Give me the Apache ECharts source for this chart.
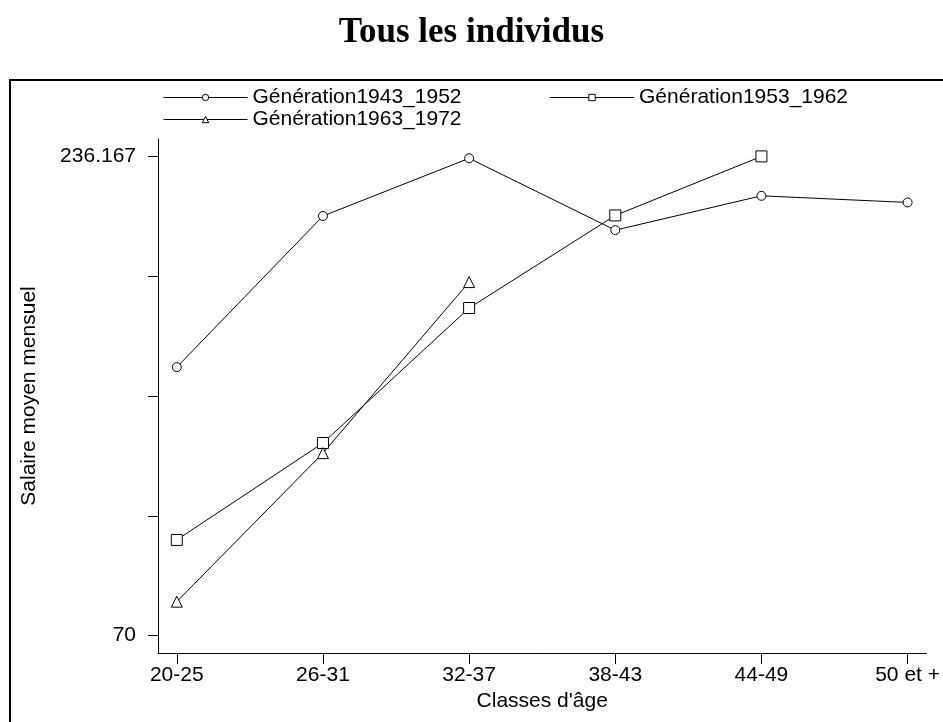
<!DOCTYPE html>
<html>
<head>
<meta charset="utf-8">
<script src="https://cdn.jsdelivr.net/npm/echarts@6/dist/echarts.min.js"></script>
<style>
  html, body { margin: 0; padding: 0; background: #fff; }
  #chart { width: 943px; height: 722px; }
</style>
</head>
<body>
<div id="chart"></div>
<script>
// classes d'âge (axe x)
const categories = ['20-25', '26-31', '32-37', '38-43', '44-49', '50 et +'];

// salaire moyen mensuel par génération
const gen1943 = [163.1, 215.5, 235.5, 210.6, 222.5, 220.2];
const gen1953 = [103.2, 136.8, 183.6, 215.7, 236.167];
const gen1963 = [81.8, 133.3, 192.6];

// graduations de l'axe y
const yTicks = [70, 111.542, 153.084, 194.625, 236.167];
const yLabels = [70, 236.167];

const toPairs = arr => arr.map((v, i) => [i, v]);

const chart = echarts.init(document.getElementById('chart'));

const font = 'Arial, "Liberation Sans", sans-serif';
const black = '#000';

const serie = (name, data, symbol, size) => ({
  name: name,
  type: 'line',
  data: toPairs(data),
  symbol: symbol,
  symbolSize: size,
  showSymbol: true,
  lineStyle: { color: black, width: 1 },
  itemStyle: { color: '#fff', borderColor: black, borderWidth: 1 },
  emphasis: { disabled: true },
  animation: false
});

const legendBase = {
  orient: 'horizontal',
  itemWidth: 84,
  itemHeight: 8,
  textStyle: { fontFamily: font, fontSize: 21, color: black },
  lineStyle: { width: 1, color: black },
  itemStyle: { color: '#fff', borderColor: black, borderWidth: 1 },
  selectedMode: false
};

const option = {
  backgroundColor: '#fff',
  animation: false,
  title: {
    text: 'Tous les individus',
    left: 'center',
    top: 10,
    textStyle: { fontFamily: '"Liberation Serif", "Times New Roman", serif', fontWeight: 'bold', fontSize: 35, color: black }
  },
  graphic: [{
    type: 'rect',
    shape: { x: 10, y: 80, width: 1000, height: 1000 },
    style: { fill: null, stroke: black, lineWidth: 2 },
    silent: true
  }],
  legend: [
    Object.assign({}, legendBase, { left: 158, top: 82, itemGap: 88, data: ['Génération1943_1952', 'Génération1953_1962'] }),
    Object.assign({}, legendBase, { left: 158, top: 104, data: ['Génération1963_1972'] })
  ],
  grid: { left: 158, right: 8, top: 139, bottom: 69 },
  xAxis: {
    type: 'value',
    min: -0.1286,
    max: 5.1286,
    name: "Classes d'âge",
    nameLocation: 'middle',
    nameGap: 33,
    nameTextStyle: { fontFamily: font, fontSize: 21, color: black },
    axisLine: { onZero: false, lineStyle: { color: black, width: 1 } },
    axisTick: { show: true, length: 11, lineStyle: { color: black }, customValues: [0, 1, 2, 3, 4, 5] },
    axisLabel: {
      fontFamily: font, fontSize: 21, color: black, margin: 12,
      customValues: [0, 1, 2, 3, 4, 5],
      formatter: v => categories[Math.round(v)]
    },
    splitLine: { show: false }
  },
  yAxis: {
    type: 'value',
    min: 64.0,
    max: 242.2,
    name: 'Salaire moyen mensuel',
    nameLocation: 'middle',
    nameGap: 118,
    nameTextStyle: { fontFamily: font, fontSize: 21, color: black },
    axisLine: { show: true, onZero: false, lineStyle: { color: black, width: 1 } },
    axisTick: { show: true, length: 10, lineStyle: { color: black }, customValues: yTicks },
    axisLabel: {
      fontFamily: font, fontSize: 21, color: black, margin: 22,
      customValues: yLabels,
      formatter: v => String(v)
    },
    splitLine: { show: false }
  },
  series: [
    serie('Génération1943_1952', gen1943, 'circle', 9),
    serie('Génération1953_1962', gen1953, 'rect', 11),
    serie('Génération1963_1972', gen1963, 'triangle', 11)
  ]
};

chart.setOption(option);
</script>
</body>
</html>
